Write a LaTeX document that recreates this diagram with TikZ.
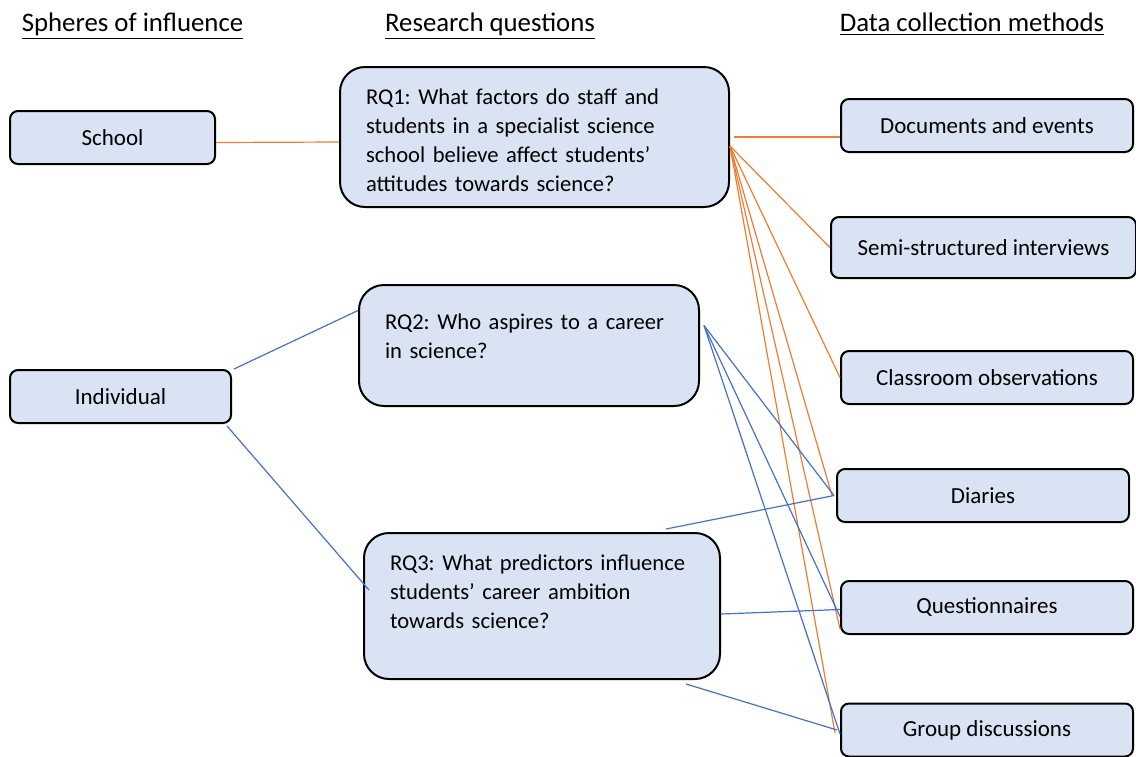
\documentclass[tikz,border=0pt]{standalone}
\usepackage{fontspec}
\setmainfont{Carlito}
\usepackage{xcolor}
\usepackage{tikz}
\usetikzlibrary{positioning}
\definecolor{boxfill}{HTML}{DAE3F3}
\definecolor{linkorange}{HTML}{ED7D31}
\definecolor{linkblue}{HTML}{4472C4}

\begin{document}
\frenchspacing
\begin{tikzpicture}[x=0.5pt, y=-0.5pt,
    font=\fontsize{11.3}{14.5}\selectfont,
    heading/.style={anchor=base, inner sep=0pt, font=\fontsize{13.4}{16}\selectfont},
    sphere/.style={rectangle, draw=black, line width=1pt, fill=boxfill, rounded corners=4pt, minimum height=26.5pt, inner sep=0pt, font=\fontsize{11.5}{14}\selectfont},
    question/.style={rectangle, draw=black, line width=1pt, fill=boxfill, rounded corners=12.5pt, inner xsep=13pt, inner ysep=0pt, align=left},
    method/.style={sphere, minimum width=146pt},
    orangelink/.style={draw=linkorange, line width=0.6pt},
    bluelink/.style={draw=linkblue, line width=0.6pt}]

    \useasboundingbox (0, 0) rectangle (1136, 756);

    % Headings
    \node [heading] at (132.5, 31) (spheres) {\underline{Spheres of influence}};
    \node [heading] at (490, 31) (questions) {\underline{Research questions}};
    \node [heading] at (972, 31) (methods) {\underline{Data collection methods}};

    % Spheres
    \node [sphere, minimum width=102.5pt] at (112.5, 137.5) (school) {School};
    \node [sphere, minimum width=110.5pt] at (120.5, 396.5) (individual) {Individual};

    % Research questions
    \node [question, text width=168.5pt, text height=18.5pt, text depth=51.5pt] at (534.5, 137) (rqone)
        {RQ1: What factors do staff and\\students in a specialist science\\school believe affect students’\\attitudes towards science?};
    \node [question, text width=144pt, text height=22pt, text depth=38.5pt] at (529, 345.5) (rqtwo)
        {RQ2: Who aspires to a career\\in science?};
    \node [question, text width=152pt, text height=18.5pt, text depth=54.5pt] at (542, 606) (rqthree)
        {RQ3: What predictors influence\\students’ career ambition\\towards science?};

    % Methods
    \node [method] at (987, 125.5) (docs) {Documents and events};
    \node [method, minimum width=152.5pt, minimum height=30.5pt] at (983.5, 247.5) (interviews) {Semi-structured interviews};
    \node [method] at (987, 377.5) (observations) {Classroom observations};
    \node [method] at (983, 495.5) (diaries) {Diaries};
    \node [method] at (987, 607.5) (questionnaires) {Questionnaires};
    \node [method] at (987, 730) (groups) {Group discussions};

    % Orange links (RQ1)
    \draw [orangelink] ([yshift=-2.5pt]school.east) -- ([yshift=-2.5pt]rqone.west);
    \draw [orangelink] ([xshift=2pt]rqone.east) -- (rqone.east -| docs.west);
    \draw [orangelink] ([yshift=-4.5pt]rqone.east) -- (interviews.west);
    \draw [orangelink] ([yshift=-4.5pt]rqone.east) -- (observations.west);
    \draw [orangelink] ([yshift=-4.5pt]rqone.east) -- ([xshift=-2pt]diaries.west);
    \draw [orangelink] ([yshift=-4.5pt]rqone.east) -- ([yshift=3pt]questionnaires.south west);
    \draw [orangelink] ([yshift=-4.5pt]rqone.east) -- ([xshift=-2.5pt,yshift=-1.5pt]groups.west);

    % Blue links (RQ2, RQ3)
    \draw [bluelink] ([xshift=1pt]individual.north east) -- ([yshift=17.5pt]rqtwo.west);
    \draw [bluelink] ([xshift=-2.5pt,yshift=-1pt]individual.south east) -- ([xshift=3pt,yshift=8pt]rqthree.west);
    \draw [bluelink] ([xshift=2pt,yshift=10pt]rqtwo.east) -- ([xshift=-1pt]diaries.west);
    \draw [bluelink] ([xshift=2pt,yshift=10pt]rqtwo.east) -- ([yshift=-4.5pt]questionnaires.west);
    \draw [bluelink] ([xshift=2pt,yshift=10pt]rqtwo.east) -- ([yshift=-2pt]groups.west);
    \draw [bluelink] ([xshift=-27.5pt,yshift=1.5pt]rqthree.north east) -- ([xshift=-1pt]diaries.west);
    \draw [bluelink] ([yshift=-4pt]rqthree.east) -- ([yshift=-1pt]questionnaires.west);
    \draw [bluelink] ([xshift=-17.5pt,yshift=-2pt]rqthree.south east) -- ([xshift=-1.5pt]groups.west);

\end{tikzpicture}
\end{document}
